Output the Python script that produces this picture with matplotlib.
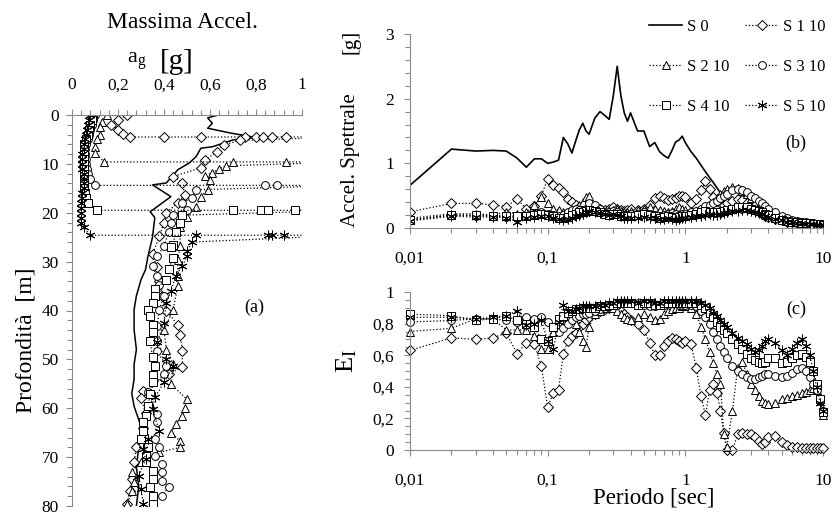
import numpy as np
import matplotlib
matplotlib.use("Agg")
import matplotlib.pyplot as plt
from matplotlib.ticker import MultipleLocator, FixedLocator, FuncFormatter, NullFormatter, LogLocator

plt.rcParams['font.family'] = ['Liberation Serif', 'DejaVu Serif']
plt.rcParams['mathtext.fontset'] = 'custom'
plt.rcParams['mathtext.rm'] = 'Liberation Serif'
plt.rcParams['mathtext.it'] = 'Liberation Serif:italic'

# ---------------- panel (a): peak acceleration profiles (depth, a_g) ----------------
prof_S0 = [(0,0.635),(0.6,0.59),(1.7,0.61),(2.7,0.59),(3.7,0.69),(4.6,0.80),(5.1,0.70),(6.5,0.61),
           (6.8,0.56),(8.5,0.54),(9.8,0.51),(11.2,0.46),(13.9,0.41),(14.3,0.35),(16.7,0.43),(19.8,0.34),
           (21,0.36),(25,0.35),(29,0.33),(31.6,0.32),(33.7,0.30),(37,0.28),(39.8,0.27),(44,0.27),
           (48,0.28),(51,0.27),(54,0.27),(57,0.26),(59.6,0.27),(63.7,0.30),(68,0.29),(72,0.28),
           (76,0.29),(80,0.28)]
prof_S1 = [(0,0.24),(1,0.20),(2,0.17),(3,0.20),(3.8,0.22),(4.5,0.25),(4.5,0.40),(4.5,0.56),(4.5,0.75),
           (4.5,0.80),(4.5,0.83),(4.5,0.87),(4.5,0.93),(4.5,1.2),(5.2,0.73),(6.1,0.66),(7.5,0.63),(9.2,0.58),
           (10.8,0.56),(12.6,0.44),(13.9,0.48),(16.3,0.49),(18,0.46),(20,0.41),(22,0.40),(24.8,0.38),
           (28.5,0.35),(31,0.37),(34,0.38),(37,0.39),(40,0.41),(43,0.46),(45,0.47),(48.3,0.48),(51.6,0.48),
           (53,0.42),(56.5,0.31),(58,0.30),(61,0.32),(64,0.31),(68,0.28),(71,0.27),(74.5,0.26),(77,0.25),
           (79.6,0.24)]
prof_S2 = [(0,0.15),(1.5,0.13),(2.5,0.12),(4,0.12),(5,0.11),(6.5,0.10),(7.8,0.10),(9.6,0.14),(9.6,0.70),
           (9.6,0.93),(9.6,1.2),(10.4,0.67),(11,0.64),(11.8,0.61),(12.4,0.58),(13.3,0.60),(15.3,0.59),
           (16.7,0.56),(18.8,0.54),(20.8,0.50),(23,0.47),(26.9,0.47),(29.6,0.46),(33,0.46),(35,0.46),
           (39.8,0.44),(44,0.40),(48,0.41),(51,0.44),(55,0.43),(58.2,0.50),(60,0.49),(61.6,0.48),(63.3,0.45),
           (65,0.43),(66.7,0.47),(68,0.47),(69,0.38),(71,0.30),(73,0.26),(75,0.27),(77,0.26),(79.6,0.24)]
prof_S3 = [(0,0.10),(1,0.09),(2,0.085),(3,0.08),(4,0.075),(5,0.07),(6,0.06),(7,0.055),(8,0.055),(9,0.06),
           (10,0.06),(11,0.065),(12,0.07),(13,0.08),(14.4,0.10),(14.4,0.84),(14.4,0.89),(14.4,1.2),
           (15.3,0.54),(17,0.52),(18,0.48),(19.4,0.50),(20.4,0.44),(22,0.43),(23.9,0.42),(26.9,0.40),
           (28.9,0.37),(30.9,0.35),(33,0.37),(34.7,0.38),(37,0.40),(39.8,0.38),(43.2,0.37),(46.3,0.37),
           (48.3,0.37),(51.4,0.41),(53,0.40),(56.7,0.33),(61.2,0.37),(62.9,0.37),(66.3,0.36),(68,0.38),
           (69.8,0.36),(71.4,0.39),(73,0.39),(74.9,0.39),(76.1,0.42),(78,0.39),(79.6,0.35)]
prof_S4 = [(0,0.09),(1,0.085),(2,0.08),(3,0.075),(4,0.07),(5,0.06),(6,0.05),(7,0.05),(8,0.05),(9,0.05),
           (10,0.05),(11,0.05),(12,0.05),(13,0.05),(14,0.05),(15,0.05),(16,0.055),(17,0.06),(18,0.07),
           (19.5,0.11),(19.5,0.70),(19.5,0.82),(19.5,0.85),(19.5,0.97),(19.5,1.2),(20.5,0.48),(22,0.47),
           (24,0.45),(26.5,0.44),(27.1,0.43),(29.2,0.44),(31.6,0.42),(33.7,0.41),(35.7,0.36),(37.1,0.36),
           (38.4,0.35),(39.8,0.33),(41.2,0.34),(42.9,0.35),(44.5,0.35),(46.3,0.34),(49.6,0.35),(51.4,0.36),
           (53.1,0.35),(54.7,0.35),(57,0.34),(59.6,0.33),(61.6,0.32),(62.9,0.31),(64.7,0.31),(66.3,0.30),
           (68,0.33),(69.8,0.32),(71,0.32),(72.9,0.35),(74.5,0.35),(76.1,0.34),(78,0.35),(79.6,0.35)]
prof_S5 = [(0,0.08),(1,0.075),(2,0.07),(3,0.065),(4,0.06),(5,0.055),(6,0.05),(7,0.05),(8,0.045),(9,0.045),
           (10,0.045),(11,0.045),(12,0.05),(13,0.05),(14,0.05),(15,0.05),(16,0.045),(17,0.045),(18,0.04),
           (19,0.04),(20,0.04),(21,0.04),(22,0.04),(23,0.05),(24.6,0.08),(24.6,0.54),(24.6,0.85),
           (24.6,0.87),(24.6,0.92),(24.6,1.2),(26,0.52),(27.9,0.50),(28.9,0.50),(30.9,0.48),(33,0.45),
           (36.1,0.43),(38.4,0.41),(42.5,0.40),(46.5,0.37),(50,0.41),(51.4,0.44),(54.7,0.40),(57.8,0.36),
           (60.2,0.35),(64.7,0.38),(66.3,0.33),(68.4,0.31),(70.4,0.32),(73.9,0.29),(76.5,0.30),(79.6,0.31)]

# ---------------- periods for panels (b) and (c) ----------------
periods = [0.01,0.02,0.03,0.04,0.05,0.06,0.07,0.08,0.09,0.1,
           0.11,0.12,0.13,0.14,0.15,0.16,0.17,0.18,0.19,0.2,
           0.22,0.24,0.26,0.28,0.3,0.32,0.34,0.36,0.38,0.4,
           0.45,0.5,0.55,0.6,0.65,0.7,0.75,0.8,0.85,0.9,0.95,1.0,
           1.1,1.2,1.3,1.4,1.5,1.6,1.7,1.8,1.9,2.0,
           2.2,2.4,2.6,2.8,3.0,3.2,3.4,3.6,3.8,4.0,
           4.5,5,5.5,6,6.5,7,7.5,8,8.5,9,9.5,10]

# spectral acceleration [g]
sa_S0 = [0.66,1.22,1.19,1.20,1.19,1.08,0.94,1.07,1.07,1.00,
         1.02,1.05,1.40,1.30,1.16,1.35,1.52,1.62,1.50,1.45,
         1.70,1.80,1.74,1.68,2.05,2.50,2.05,1.78,1.65,1.78,
         1.50,1.50,1.26,1.32,1.18,1.12,1.08,1.20,1.33,1.36,1.42,1.32,
         1.18,1.08,0.97,0.87,0.78,0.70,0.62,0.54,0.50,0.45,
         0.38,0.33,0.29,0.27,0.25,0.23,0.22,0.20,0.18,0.16,
         0.13,0.11,0.10,0.09,0.08,0.075,0.07,0.07,0.065,0.06,0.06,0.06]
sa_S1 = [0.25,0.38,0.38,0.36,0.33,0.45,0.30,0.34,0.50,0.76,
         0.66,0.62,0.55,0.45,0.40,0.36,0.33,0.30,0.28,0.27,
         0.28,0.30,0.28,0.30,0.32,0.30,0.28,0.27,0.28,0.30,
         0.28,0.30,0.36,0.46,0.50,0.46,0.44,0.45,0.47,0.49,0.50,0.48,
         0.38,0.45,0.58,0.72,0.60,0.48,0.42,0.38,0.36,0.38,
         0.42,0.45,0.43,0.38,0.33,0.28,0.24,0.21,0.19,0.17,
         0.14,0.12,0.10,0.09,0.08,0.07,0.065,0.06,0.055,0.05,0.05,0.05]
sa_S2 = [0.15,0.22,0.22,0.20,0.25,0.22,0.25,0.35,0.48,0.38,
         0.30,0.28,0.25,0.22,0.25,0.30,0.36,0.40,0.48,0.50,
         0.36,0.28,0.25,0.26,0.28,0.30,0.27,0.24,0.25,0.27,
         0.28,0.30,0.32,0.30,0.28,0.26,0.25,0.27,0.30,0.32,0.30,0.28,
         0.26,0.27,0.30,0.33,0.36,0.40,0.46,0.52,0.57,0.60,
         0.64,0.62,0.57,0.52,0.46,0.40,0.35,0.30,0.26,0.23,
         0.18,0.15,0.12,0.11,0.10,0.09,0.08,0.07,0.065,0.06,0.055,0.05]
sa_S3 = [0.13,0.20,0.19,0.18,0.17,0.16,0.18,0.22,0.25,0.22,
         0.20,0.19,0.20,0.24,0.28,0.30,0.28,0.27,0.30,0.38,
         0.36,0.30,0.25,0.24,0.26,0.24,0.22,0.20,0.20,0.21,
         0.22,0.24,0.22,0.20,0.19,0.20,0.22,0.23,0.21,0.20,0.21,0.22,
         0.24,0.26,0.30,0.34,0.36,0.38,0.42,0.46,0.50,0.53,
         0.58,0.60,0.58,0.55,0.50,0.46,0.42,0.38,0.34,0.30,
         0.24,0.19,0.15,0.13,0.11,0.10,0.09,0.08,0.07,0.065,0.06,0.055]
sa_S4 = [0.12,0.20,0.20,0.19,0.19,0.18,0.19,0.20,0.22,0.20,
         0.18,0.16,0.15,0.17,0.20,0.22,0.24,0.25,0.27,0.28,
         0.26,0.24,0.22,0.20,0.22,0.21,0.19,0.18,0.18,0.19,
         0.20,0.21,0.20,0.18,0.16,0.17,0.18,0.17,0.16,0.17,0.18,0.19,
         0.20,0.22,0.24,0.26,0.25,0.24,0.24,0.25,0.27,0.28,
         0.30,0.32,0.33,0.32,0.30,0.28,0.26,0.24,0.22,0.20,
         0.16,0.13,0.11,0.10,0.09,0.08,0.075,0.07,0.065,0.06,0.055,0.05]
sa_S5 = [0.11,0.18,0.17,0.17,0.16,0.10,0.15,0.17,0.19,0.18,
         0.16,0.14,0.13,0.14,0.16,0.18,0.20,0.22,0.24,0.26,
         0.25,0.23,0.22,0.20,0.21,0.20,0.18,0.16,0.15,0.15,
         0.16,0.17,0.16,0.15,0.14,0.14,0.15,0.14,0.13,0.14,0.15,0.16,
         0.17,0.18,0.19,0.20,0.21,0.20,0.20,0.21,0.23,0.24,
         0.26,0.27,0.28,0.28,0.27,0.25,0.23,0.21,0.19,0.17,
         0.14,0.12,0.10,0.09,0.08,0.07,0.065,0.06,0.055,0.05,0.05,0.045]

# efficiency index E_I
ei_S1 = [0.63,0.71,0.70,0.71,0.74,0.61,0.68,0.67,0.53,0.27,
         0.36,0.38,0.61,0.69,0.72,0.74,0.78,0.80,0.82,0.84,
         0.86,0.88,0.89,0.90,0.91,0.90,0.88,0.86,0.84,0.82,
         0.80,0.76,0.68,0.60,0.60,0.66,0.69,0.71,0.70,0.69,0.68,0.69,
         0.67,0.52,0.34,0.22,0.38,0.42,0.36,0.25,0.11,0.00,
         0.00,0.10,0.11,0.10,0.10,0.08,0.06,0.04,0.05,0.08,
         0.09,0.05,0.03,0.02,0.02,0.01,0.01,0.01,0.01,0.01,0.01,0.01]
ei_S2 = [0.75,0.77,0.83,0.83,0.76,0.76,0.76,0.72,0.64,0.64,
         0.75,0.80,0.84,0.85,0.84,0.80,0.75,0.69,0.65,0.78,
         0.86,0.88,0.90,0.91,0.90,0.88,0.86,0.84,0.83,0.82,
         0.84,0.86,0.84,0.82,0.83,0.86,0.88,0.89,0.90,0.90,0.91,0.91,
         0.90,0.86,0.78,0.70,0.62,0.55,0.48,0.42,0.10,0.02,
         0.25,0.52,0.56,0.48,0.42,0.38,0.34,0.31,0.30,0.29,
         0.30,0.32,0.33,0.34,0.35,0.36,0.37,0.38,0.39,0.38,0.33,0.22]
ei_S3 = [0.81,0.82,0.83,0.83,0.82,0.81,0.84,0.83,0.84,0.81,
         0.78,0.75,0.77,0.80,0.82,0.84,0.85,0.86,0.86,0.87,
         0.88,0.89,0.90,0.91,0.92,0.92,0.93,0.93,0.93,0.93,
         0.93,0.92,0.91,0.91,0.92,0.92,0.93,0.93,0.93,0.92,0.92,0.92,
         0.92,0.91,0.88,0.84,0.80,0.75,0.70,0.66,0.62,0.58,
         0.53,0.50,0.48,0.46,0.45,0.45,0.46,0.47,0.48,0.48,
         0.47,0.46,0.47,0.49,0.51,0.52,0.50,0.46,0.42,0.38,0.31,0.25]
ei_S4 = [0.86,0.85,0.82,0.83,0.85,0.82,0.80,0.78,0.70,0.69,
         0.78,0.83,0.85,0.87,0.88,0.89,0.89,0.90,0.90,0.90,
         0.90,0.91,0.91,0.92,0.92,0.93,0.93,0.93,0.93,0.93,
         0.92,0.93,0.93,0.92,0.92,0.93,0.93,0.93,0.93,0.93,0.93,0.93,
         0.93,0.93,0.92,0.90,0.87,0.84,0.81,0.78,0.76,0.74,
         0.70,0.67,0.64,0.61,0.58,0.57,0.56,0.55,0.56,0.58,
         0.58,0.55,0.56,0.58,0.60,0.61,0.59,0.56,0.50,0.42,0.32,0.24]
ei_S5 = [0.84,0.84,0.83,0.84,0.85,0.88,0.79,0.80,0.82,0.69,
         0.64,0.81,0.92,0.88,0.88,0.89,0.90,0.91,0.91,0.91,
         0.91,0.92,0.92,0.93,0.93,0.94,0.94,0.94,0.94,0.94,
         0.93,0.94,0.94,0.93,0.93,0.94,0.94,0.94,0.94,0.94,0.94,0.94,
         0.94,0.94,0.93,0.92,0.90,0.87,0.85,0.82,0.80,0.78,
         0.74,0.71,0.69,0.67,0.64,0.62,0.63,0.66,0.69,0.70,
         0.68,0.63,0.60,0.64,0.68,0.70,0.66,0.60,0.50,0.40,0.30,0.25]

labels = ['S 0', 'S 1 10', 'S 2 10', 'S 3 10', 'S 4 10', 'S 5 10']
marker_list = ['D', '^', 'o', 's', (6, 2, 0)]
marker_size = [4.6, 6.0, 5.6, 5.4, 7.0]

AX_GRAY = '#8a8a8a'
W, H = 834, 518


def comma(v, pos):
    return ('%g' % v).replace('.', ',')


def box(l, t, r, b):
    return [l / W, 1 - b / H, (r - l) / W, (b - t) / H]


def style_axis(ax, shown):
    for side in ['top', 'bottom', 'left', 'right']:
        ax.spines[side].set_visible(side in shown)
        ax.spines[side].set_color(AX_GRAY)
    ax.tick_params(which='both', direction='out', color=AX_GRAY, labelsize=12.5, labelcolor='black')
    ax.tick_params(which='major', length=4.5, width=0.8)
    ax.tick_params(which='minor', length=3.5, width=0.8)


fig = plt.figure(figsize=(W / 100, H / 100), dpi=100)
axa = fig.add_axes(box(72, 115, 302, 506))
axb = fig.add_axes(box(410, 34, 823, 228))
axc = fig.add_axes(box(410, 292, 823, 450))

# ---- panel (a)
d0, a0 = zip(*prof_S0)
axa.plot(a0, d0, color='black', lw=1.1)
for prof, mk, ms in zip([prof_S1, prof_S2, prof_S3, prof_S4, prof_S5], marker_list, marker_size):
    dd, aa = zip(*prof)
    axa.plot(aa, dd, ls=':', color='black', lw=0.9, marker=mk, ms=ms,
             mfc='white', mec='black', mew=0.7)
axa.set_xlim(0, 1)
axa.set_ylim(80, 0)
axa.xaxis.tick_top()
axa.xaxis.set_major_locator(MultipleLocator(0.2))
axa.xaxis.set_minor_locator(MultipleLocator(0.04))
axa.xaxis.set_major_formatter(FuncFormatter(comma))
axa.yaxis.set_major_locator(MultipleLocator(10))
axa.yaxis.set_minor_locator(MultipleLocator(2))
style_axis(axa, ['top', 'left'])
axa.tick_params(axis='x', pad=11)
axa.tick_params(axis='y', pad=5)

# ---- panel (b)
handles = []
h, = axb.plot(periods, sa_S0, color='black', lw=1.2)
handles.append(h)
for ys, mk, ms in zip([sa_S1, sa_S2, sa_S3, sa_S4, sa_S5], marker_list, marker_size):
    h, = axb.plot(periods, ys, ls=':', color='black', lw=0.9, marker=mk, ms=ms,
                  mfc='white', mec='black', mew=0.7)
    handles.append(h)
axb.set_xscale('log')
axb.set_xlim(0.01, 10)
axb.set_ylim(0, 3)
axb.yaxis.set_major_locator(MultipleLocator(1))
axb.yaxis.set_minor_locator(MultipleLocator(0.2))

# ---- panel (c)
for ys, mk, ms in zip([ei_S1, ei_S2, ei_S3, ei_S4, ei_S5], marker_list, marker_size):
    axc.plot(periods, ys, ls=':', color='black', lw=0.9, marker=mk, ms=ms,
             mfc='white', mec='black', mew=0.7, clip_on=False)
axc.set_xscale('log')
axc.set_xlim(0.01, 10)
axc.set_ylim(0, 1)
axc.yaxis.set_major_locator(MultipleLocator(0.2))
axc.yaxis.set_minor_locator(MultipleLocator(0.05))
axc.yaxis.set_major_formatter(FuncFormatter(comma))

for ax in (axb, axc):
    ax.xaxis.set_major_locator(FixedLocator([0.01, 0.1, 1, 10]))
    ax.xaxis.set_major_formatter(FuncFormatter(comma))
    ax.xaxis.set_minor_locator(LogLocator(base=10, subs=np.arange(2, 10)))
    ax.xaxis.set_minor_formatter(NullFormatter())
    style_axis(ax, ['left', 'bottom'])
    ax.tick_params(axis='x', pad=12)
    ax.tick_params(axis='y', pad=7)

# ---- texts
fig.text(182 / W, 1 - 23 / H, 'Massima Accel.', ha='center', va='center', fontsize=17)
fig.text(137 / W, 1 - 61 / H, r'a$_{\rm g}$', ha='center', va='center', fontsize=16)
fig.text(177 / W, 1 - 62 / H, '[g]', ha='center', va='center', fontsize=21)
fig.text(26 / W, 1 - 340 / H, 'Profondità  [m]', ha='center', va='center', rotation=90, fontsize=17)
fig.text(351 / W, 1 - 160 / H, 'Accel. Spettrale', ha='center', va='center', rotation=90, fontsize=15)
fig.text(351 / W, 1 - 42 / H, '[g]', ha='center', va='center', rotation=90, fontsize=15)
fig.text(347 / W, 1 - 361 / H, r'E$_{\rm I}$', ha='center', va='center', rotation=90, fontsize=19)
fig.text(654 / W, 1 - 498 / H, 'Periodo [sec]', ha='center', va='center', fontsize=16.5)
fig.text(254 / W, 1 - 307 / H, '(a)', ha='center', va='center', fontsize=13)
fig.text(796 / W, 1 - 143 / H, '(b)', ha='center', va='center', fontsize=13)
fig.text(796 / W, 1 - 309 / H, '(c)', ha='center', va='center', fontsize=13)

order = [0, 2, 4, 1, 3, 5]
fig.legend([handles[i] for i in order], [labels[i] for i in order],
           loc='upper left', bbox_to_anchor=(649 / W, 1 - 19 / H), ncol=2, frameon=False,
           fontsize=12, handlelength=2.0, handletextpad=0.3, columnspacing=0.9,
           labelspacing=1.45, borderpad=0, borderaxespad=0)

fig.savefig('out.png', dpi=100)
